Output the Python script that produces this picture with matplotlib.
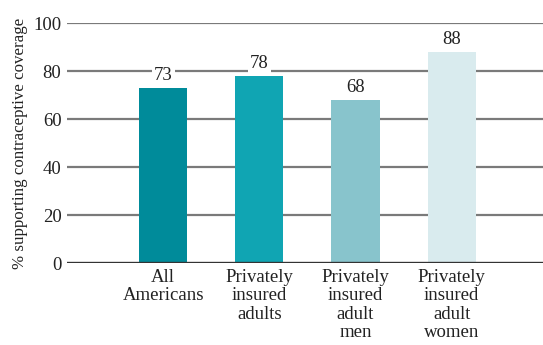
import matplotlib
matplotlib.use("Agg")
from matplotlib import pyplot as plt

# 数据
categories = ["All\nAmericans", "Privately\ninsured\nadults",
              "Privately\ninsured\nadult\nmen", "Privately\ninsured\nadult\nwomen"]
values = [73, 78, 68, 88]
colors = ["#008b9a", "#10a5b3", "#88c4cc", "#d9ebee"]

plt.rcParams['font.family'] = ['Liberation Serif', 'DejaVu Serif']

fig = plt.figure(figsize=(5.43, 3.45), dpi=100)
ax = fig.add_axes([67 / 543, 82 / 345, 476 / 543, 240 / 345])

x = range(len(values))
ax.bar(x, values, width=0.5, color=colors, zorder=3)

# 网格线
for v in [20, 40, 60, 80, 100]:
    ax.axhline(v, color="#7a7a7a", lw=1.6, zorder=1)
ax.axhline(0, color="#333333", lw=1.7, zorder=4)

# 数值标签
for i, v in enumerate(values):
    ax.text(i, v + 1.5, str(v), ha="center", va="bottom", fontsize=13.5,
            color="#222222", zorder=5,
            bbox=dict(facecolor="white", edgecolor="none", pad=1.5))

ax.set_xlim(-1.0, 3.95)
ax.set_ylim(0, 100)
ax.set_yticks([0, 20, 40, 60, 80, 100])
ax.set_xticks(list(x))
ax.set_xticklabels(categories, fontsize=13.5, linespacing=1.12, color="#222222")
ax.tick_params(axis="both", length=0, labelsize=13.5, colors="#222222")
ax.tick_params(axis="y", pad=4)
ax.tick_params(axis="x", pad=4)
for s in ax.spines.values():
    s.set_visible(False)
ax.set_ylabel("% supporting contraceptive coverage", fontsize=12.2, color="#222222", labelpad=4)

plt.savefig("out.png", dpi=100)
